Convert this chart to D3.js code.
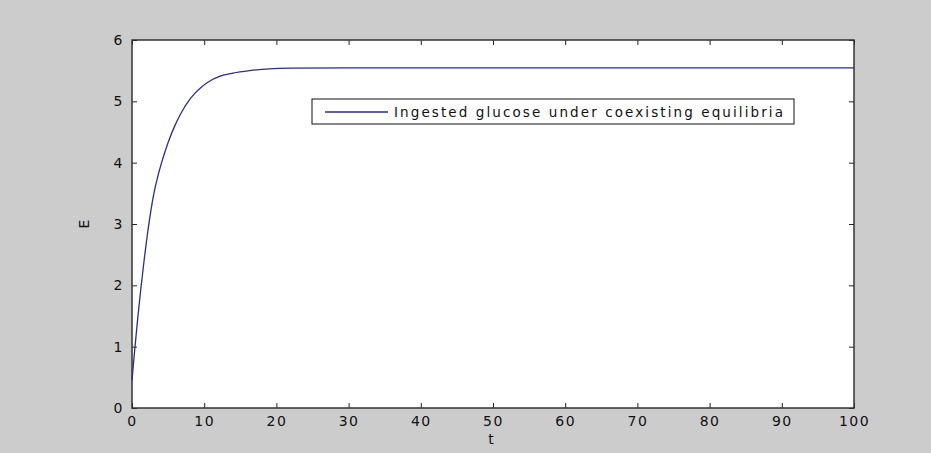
<!DOCTYPE html>
<html>
<head>
<meta charset="utf-8">
<script src="https://cdn.jsdelivr.net/npm/d3@7"></script>
<style>
  body { margin: 0; background: #cccccc; }
  svg { display: block; }
  text { font-family: "DejaVu Sans", Verdana, sans-serif; fill: #111; }
</style>
</head>
<body>
<div class="chart-box"></div>
<script>
// values
let tValues = [0, 0.2, 0.4, 0.8, 1.2, 1.7, 2.25, 3, 3.6, 4.1, 5, 6, 6.9, 7.8, 8.7, 9.6, 10.5, 12.2, 14, 16.3, 19, 22, 30, 50, 100];
let eValues = [0.45, 0.72, 0.98, 1.47, 1.92, 2.43, 2.93, 3.48, 3.79, 4.0, 4.33, 4.62, 4.83, 5.0, 5.13, 5.23, 5.31, 5.41, 5.46, 5.50, 5.53, 5.54, 5.545, 5.545, 5.545];
let xTicks = [0, 10, 20, 30, 40, 50, 60, 70, 80, 90, 100];
let yTicks = [0, 1, 2, 3, 4, 5, 6];
let legendLabel = "Ingested glucose under coexisting equilibria";

let width = 931, height = 453;
let margin = {left: 132, right: 77, top: 40, bottom: 45};

let svg = d3.select(".chart-box")
  .append("svg")
  .attr("width", width)
  .attr("height", height)
  .style("background", "#cccccc");

let x = d3.scaleLinear().domain([0, 100]).range([margin.left, width - margin.right]);
let y = d3.scaleLinear().domain([0, 6]).range([height - margin.bottom, margin.top]);

// plot area
svg.append("rect")
  .attr("x", x(0)).attr("y", y(6))
  .attr("width", x(100) - x(0)).attr("height", y(0) - y(6))
  .attr("fill", "#fff");

let tickLen = 5;
let ax = function (g) {
  g.select(".domain").remove();
  g.selectAll("line").attr("stroke", "#222");
  g.selectAll("text")
    .style("font-size", "14px")
    .style("letter-spacing", "1.5px")
    .style("fill", "#111");
};

// bottom + top ticks
svg.append("g")
  .attr("transform", "translate(0," + y(0) + ")")
  .call(d3.axisBottom(x).tickValues(xTicks).tickSizeInner(-tickLen).tickSizeOuter(0).tickPadding(8))
  .call(ax);
svg.append("g")
  .attr("transform", "translate(0," + y(6) + ")")
  .call(d3.axisTop(x).tickValues(xTicks).tickSizeInner(-tickLen).tickSizeOuter(0).tickFormat(""))
  .call(ax);
// left + right ticks
svg.append("g")
  .attr("transform", "translate(" + x(0) + ",0)")
  .call(d3.axisLeft(y).tickValues(yTicks).tickSizeInner(-tickLen).tickSizeOuter(0).tickPadding(8).tickFormat(d3.format("d")))
  .call(ax);
svg.append("g")
  .attr("transform", "translate(" + x(100) + ",0)")
  .call(d3.axisRight(y).tickValues(yTicks).tickSizeInner(-tickLen).tickSizeOuter(0).tickFormat(""))
  .call(ax);

// box
svg.append("rect")
  .attr("x", x(0)).attr("y", y(6))
  .attr("width", x(100) - x(0)).attr("height", y(0) - y(6))
  .attr("fill", "none")
  .attr("stroke", "#333")
  .attr("stroke-width", 1.5);

// curve
let pts = tValues.map(function (t, i) { return [t, eValues[i]]; });
let line = d3.line()
  .x(function (d) { return x(d[0]); })
  .y(function (d) { return y(d[1]); })
  .curve(d3.curveMonotoneX);
svg.append("path")
  .datum(pts)
  .attr("d", line)
  .attr("fill", "none")
  .attr("stroke", "#2e2e80")
  .attr("stroke-width", 1.3);

// axis labels
svg.append("text")
  .attr("x", x(50) - 2).attr("y", 444)
  .attr("text-anchor", "middle")
  .style("font-size", "14px")
  .text("t");
svg.append("text")
  .attr("transform", "translate(89," + y(3) + ") rotate(-90)")
  .attr("text-anchor", "middle")
  .style("font-size", "14px")
  .text("E");

// legend
let lg = svg.append("g").attr("class", "legend");
lg.append("rect")
  .attr("x", 312).attr("y", 99)
  .attr("width", 482).attr("height", 25)
  .attr("fill", "#fff")
  .attr("stroke", "#111")
  .attr("stroke-width", 1);
lg.append("line")
  .attr("x1", 325).attr("x2", 388)
  .attr("y1", 112).attr("y2", 112)
  .attr("stroke", "#2e2e80")
  .attr("stroke-width", 1.3);
lg.append("text")
  .attr("x", 394).attr("y", 117)
  .attr("textLength", 389)
  .attr("lengthAdjust", "spacing")
  .style("font-size", "13.5px")
  .text(legendLabel);
</script>
</body>
</html>
